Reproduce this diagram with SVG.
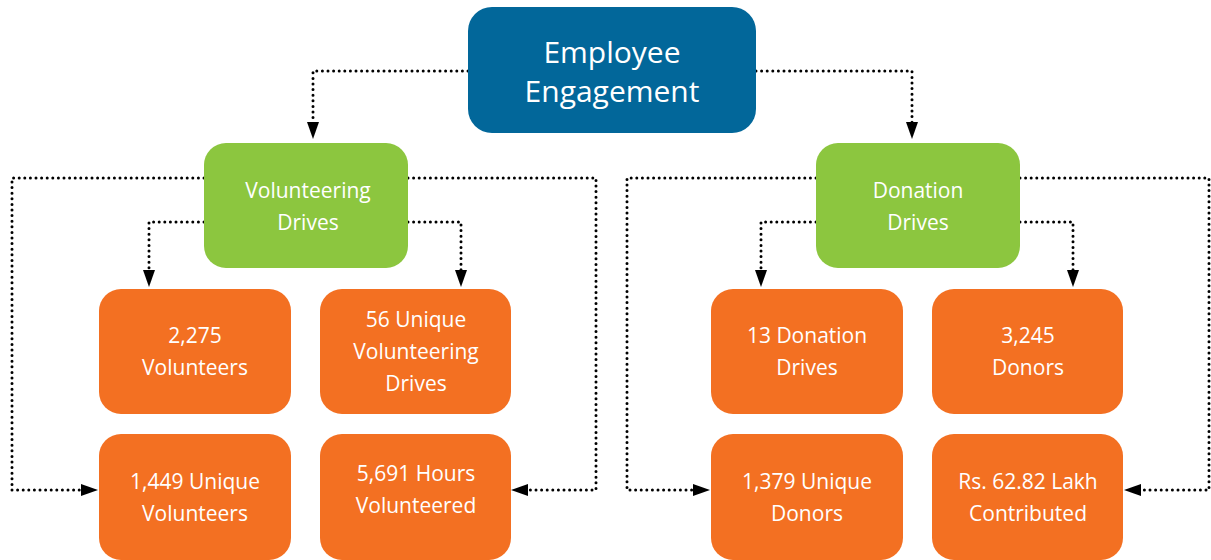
<svg xmlns="http://www.w3.org/2000/svg" width="1211" height="560" viewBox="0 0 1211 560">
<style>
.blue{fill:#02679a}
.green{fill:#8cc63f}
.orange{fill:#f37022}
text{font-family:"Open Sans","Liberation Sans",sans-serif;fill:#ffffff;text-anchor:middle}
.t1{font-size:30px}
.t2{font-size:21px}
.c{fill:none;stroke:#000;stroke-width:3;stroke-dasharray:0 5.6;stroke-linecap:round}
</style>
<g id="connectors">
<path class="c" d="M468,71 H313 V123"/>
<path class="c" d="M756,71 H912 V123"/>
<path class="c" d="M204,222 H149 V271"/>
<path class="c" d="M408,222 H461 V271"/>
<path class="c" d="M204,178 H12 V490 H82"/>
<path class="c" d="M408,178 H596 V490 H528"/>
<path class="c" d="M816,222 H761 V271"/>
<path class="c" d="M1020,222 H1073 V271"/>
<path class="c" d="M816,178 H627 V490 H694"/>
<path class="c" d="M1020,178 H1209 V490 H1140"/>
<g fill="#000">
<path d="M307,122 L319,122 L313,139 Z"/>
<path d="M906,122 L918,122 L912,139 Z"/>
<path d="M143,270 L155,270 L149,287 Z"/>
<path d="M455,270 L467,270 L461,287 Z"/>
<path d="M755,270 L767,270 L761,287 Z"/>
<path d="M1067,270 L1079,270 L1073,287 Z"/>
<path d="M81,484 L81,496 L98,490 Z"/>
<path d="M528,484 L528,496 L511,490 Z"/>
<path d="M693,484 L693,496 L710,490 Z"/>
<path d="M1141,484 L1141,496 L1124,490 Z"/>
</g>
</g>
<g id="employee-engagement">
<rect class="blue" x="468" y="7" width="288" height="126" rx="24"/>
<text class="t1" x="612" y="63">Employee</text>
<text class="t1" x="612" y="102">Engagement</text>
</g>
<g id="volunteering-drives">
<rect class="green" x="204" y="143" width="204" height="125" rx="22"/>
<text class="t2" x="308" y="198">Volunteering</text>
<text class="t2" x="308" y="230">Drives</text>
</g>
<g id="donation-drives">
<rect class="green" x="816" y="143" width="204" height="125" rx="22"/>
<text class="t2" x="918" y="198">Donation</text>
<text class="t2" x="918" y="230">Drives</text>
</g>
<g id="volunteers">
<rect class="orange" x="99" y="289" width="192" height="125" rx="22"/>
<text class="t2" x="195" y="343">2,275</text>
<text class="t2" x="195" y="375">Volunteers</text>
</g>
<g id="unique-drives">
<rect class="orange" x="320" y="289" width="191" height="125" rx="22"/>
<text class="t2" x="416" y="327">56 Unique</text>
<text class="t2" x="416" y="359">Volunteering</text>
<text class="t2" x="416" y="391">Drives</text>
</g>
<g id="unique-volunteers">
<rect class="orange" x="99" y="434" width="192" height="126" rx="22"/>
<text class="t2" x="195" y="489">1,449 Unique</text>
<text class="t2" x="195" y="521">Volunteers</text>
</g>
<g id="hours">
<rect class="orange" x="320" y="434" width="191" height="126" rx="22"/>
<text class="t2" x="416" y="481">5,691 Hours</text>
<text class="t2" x="416" y="513">Volunteered</text>
</g>
<g id="donation-count">
<rect class="orange" x="711" y="289" width="192" height="125" rx="22"/>
<text class="t2" x="807" y="343">13 Donation</text>
<text class="t2" x="807" y="375">Drives</text>
</g>
<g id="donors">
<rect class="orange" x="932" y="289" width="191" height="125" rx="22"/>
<text class="t2" x="1028" y="343">3,245</text>
<text class="t2" x="1028" y="375">Donors</text>
</g>
<g id="unique-donors">
<rect class="orange" x="711" y="434" width="192" height="126" rx="22"/>
<text class="t2" x="807" y="489">1,379 Unique</text>
<text class="t2" x="807" y="521">Donors</text>
</g>
<g id="contributed">
<rect class="orange" x="932" y="434" width="191" height="126" rx="22"/>
<text class="t2" x="1028" y="489">Rs. 62.82 Lakh</text>
<text class="t2" x="1028" y="521">Contributed</text>
</g>
</svg>
